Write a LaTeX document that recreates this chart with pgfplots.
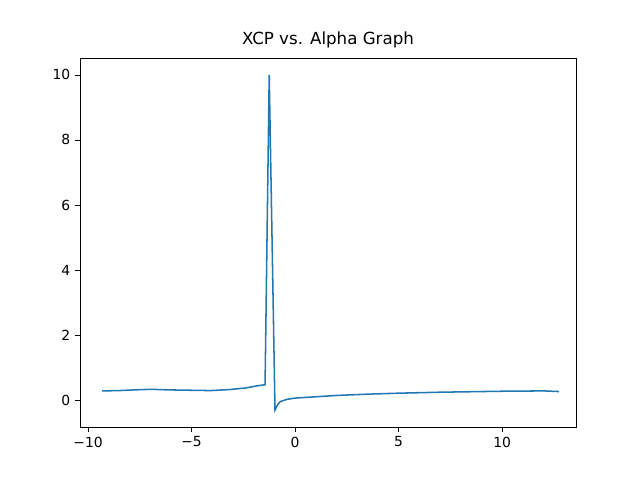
\documentclass[border=0pt]{standalone}
\usepackage{pgfplots}
\pgfplotsset{compat=1.18}
\usepackage{fontspec}
\setmainfont{DejaVu Sans}
\begin{document}
\begin{tikzpicture}
\useasboundingbox (-57.6pt,-38.16pt) rectangle (403.2pt,307.44pt);
\begin{axis}[at={(0,0)},anchor=south west,scale only axis,width=357.12pt,height=265.68pt,
xmin=-10.39,xmax=13.57,ymin=-0.83,ymax=10.52,
xtick={-10,-5,0,5,10},xticklabels={−10,−5,0,5,10},ytick={0,2,4,6,8,10},
tick align=outside,tick style={black,thin},major tick length=3.5pt,
xtick pos=bottom,ytick pos=left,
/pgf/number format/assume math mode=true,
ticklabel style={font=\fontsize{10}{12}\selectfont},
title={XCP vs. Alpha Graph},title style={font=\fontsize{12}{14}\selectfont,yshift=-2pt}]
\addplot[color={rgb,255:red,31;green,119;blue,180},line width=1.1pt,no marks] coordinates {
(-9.32,0.28)(-8.5,0.29)(-7.8,0.31)(-7,0.33)(-6,0.31)(-5,0.30)(-4.1,0.29)(-3.2,0.32)(-2.4,0.37)(-1.8,0.44)(-1.45,0.47)(-1.25,10)(-0.97,-0.31)(-0.85,-0.15)(-0.72,-0.05)(-0.4,0.02)(0,0.06)(1,0.10)(2,0.14)(3.5,0.18)(5,0.21)(7,0.24)(10,0.27)(12,0.28)(12.75,0.26)};
\end{axis}
\end{tikzpicture}
\end{document}
